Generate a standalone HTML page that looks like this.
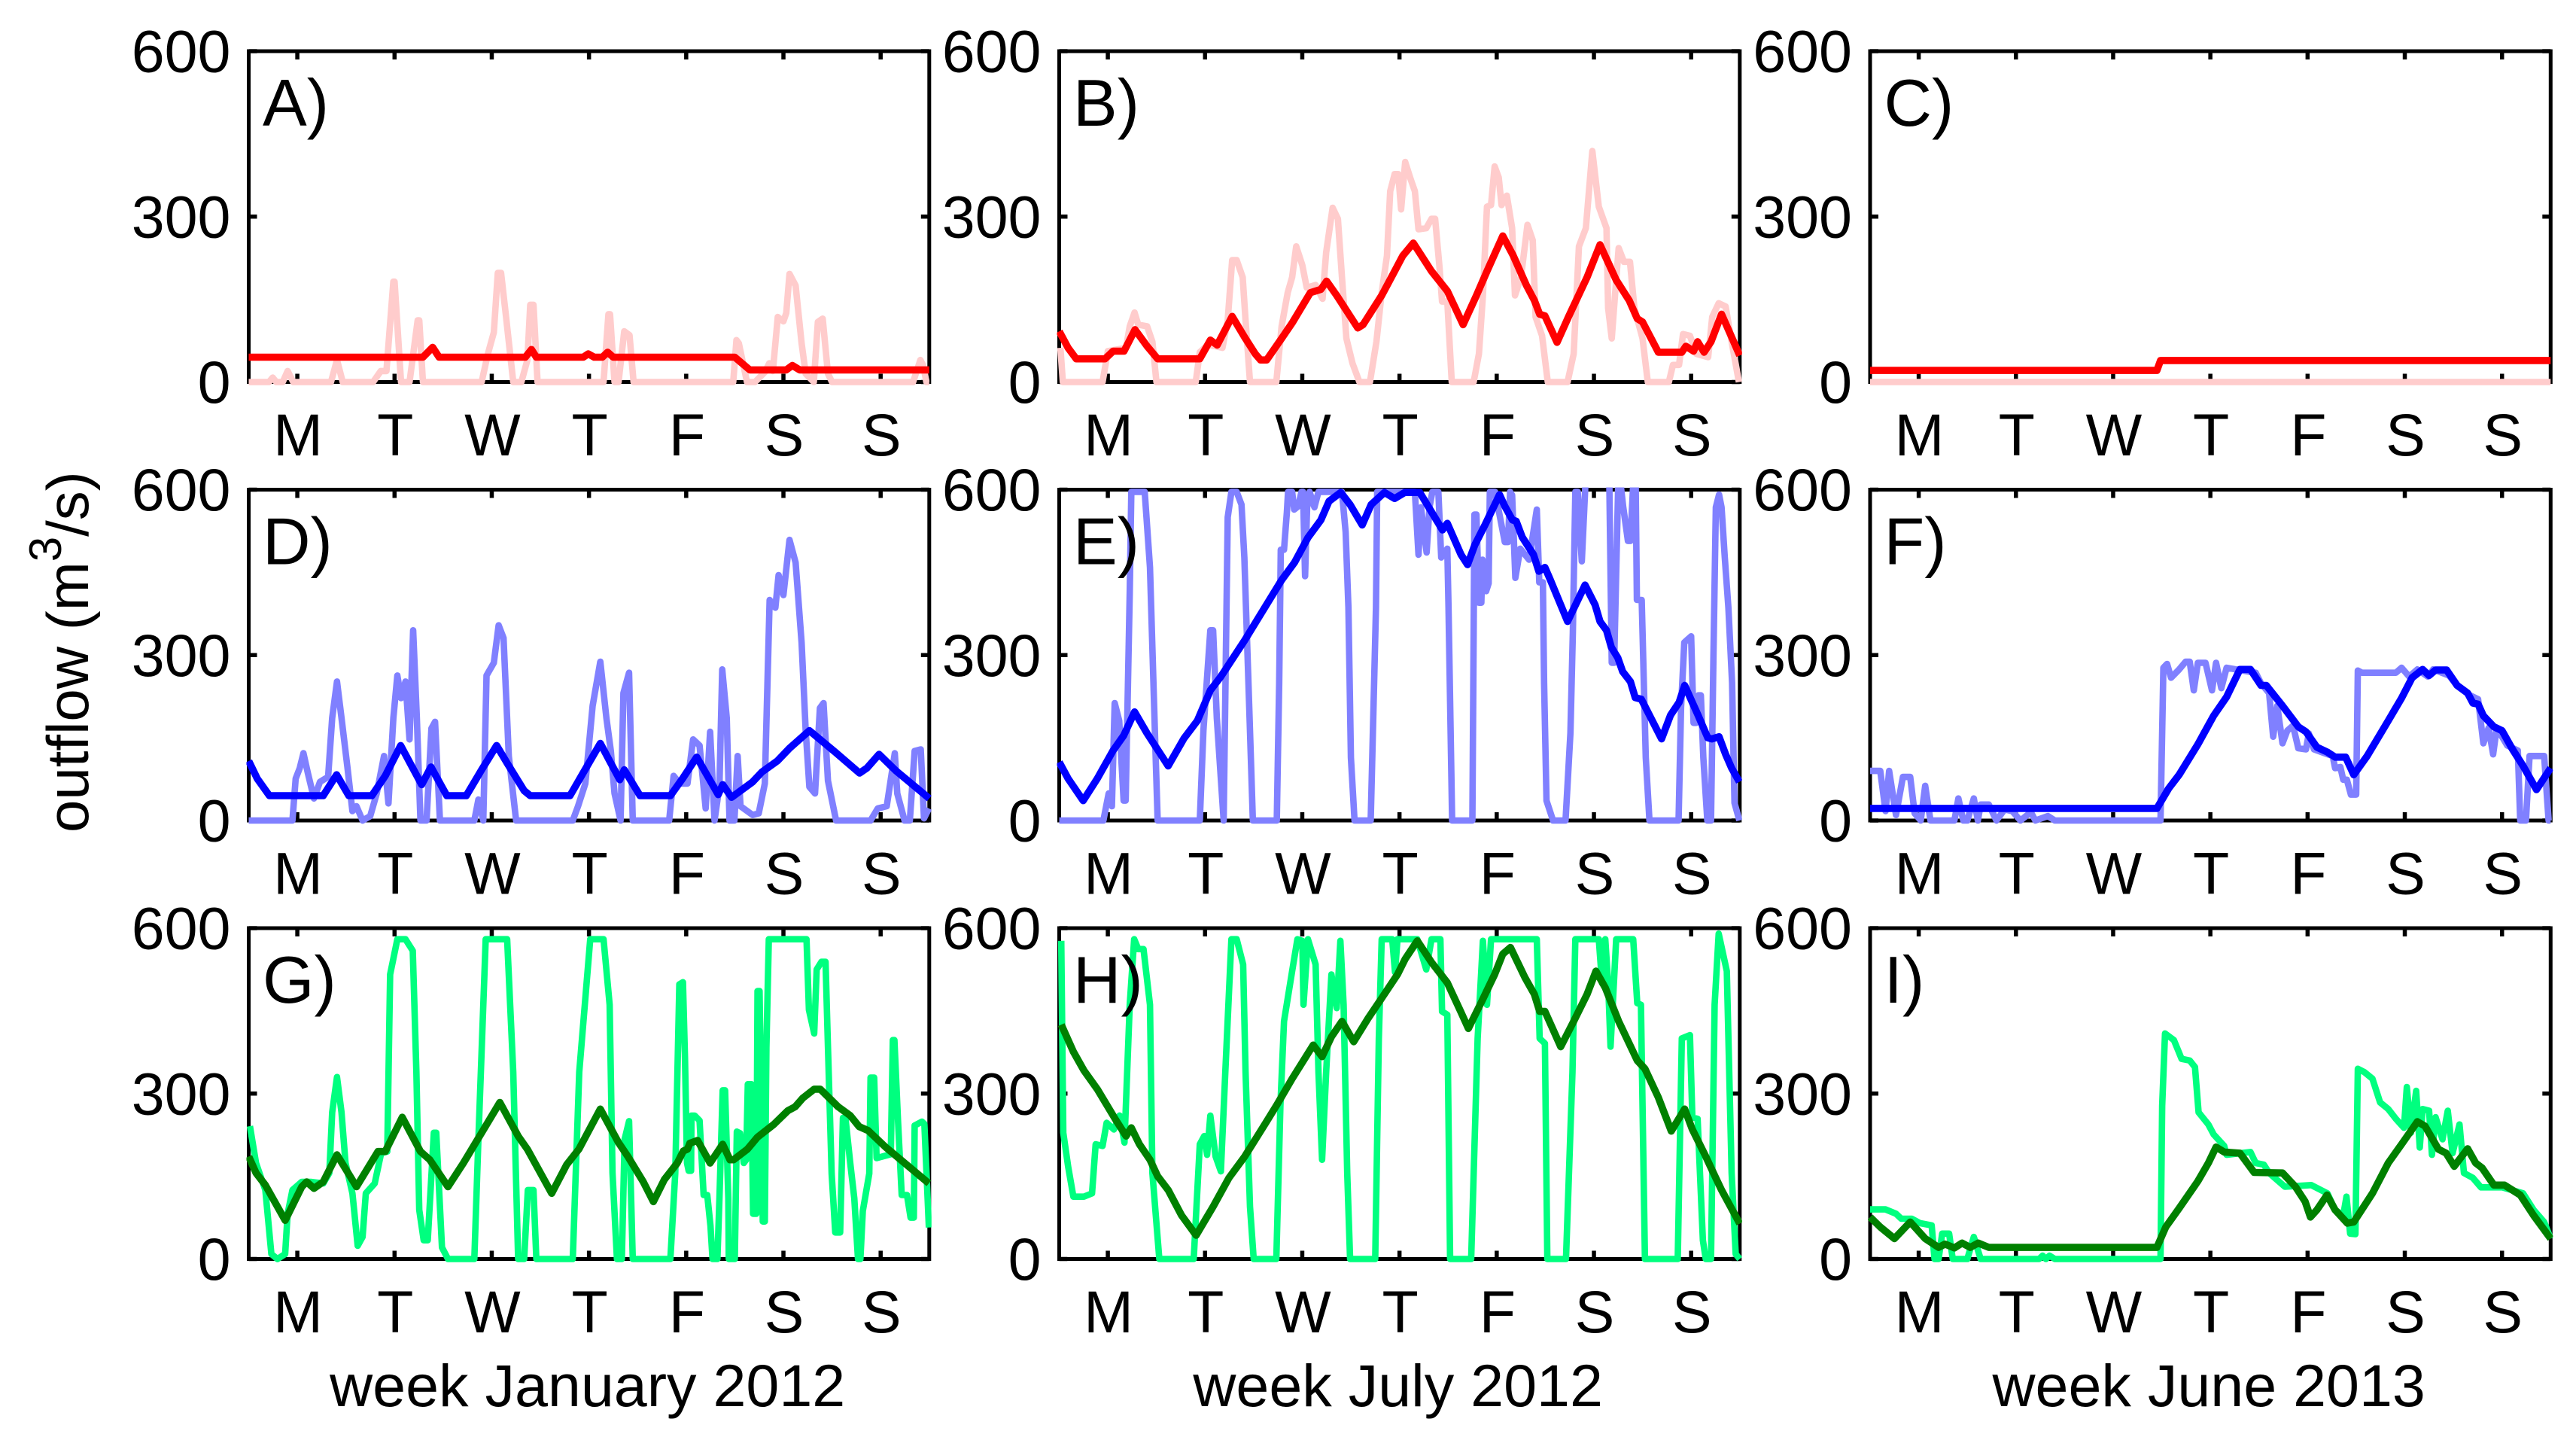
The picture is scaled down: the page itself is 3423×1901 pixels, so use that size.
<!DOCTYPE html>
<html lang="en">
<head>
<meta charset="utf-8">
<title>Outflow per week</title>
<style>
html,body{margin:0;padding:0;background:#fff;}
svg{display:block;}
text{font-family:"Liberation Sans",Arial,sans-serif;fill:#000;}
</style>
</head>
<body>
<svg id="figure" xmlns="http://www.w3.org/2000/svg" width="3423" height="1901" viewBox="0 0 3423 1901">
<rect x="0" y="0" width="3423" height="1901" fill="#fff"/>
<text transform="translate(117,1106) rotate(-90)" font-size="78">outflow (m<tspan dy="-36" font-size="60">3</tspan><tspan dy="36">/s)</tspan></text>
</svg>
<script>
const dayLabels = ['M','T','W','T','F','S','S'];
const dayTickHours = [12,36,60,84,108,132,156];
const flowTicks = [0,300,600];
const columnTitles = ['week January 2012','week July 2012','week June 2013'];

const hoursALight = [0,5,5.9,6.8,8.4,9.6,11,20.3,21.8,23.2,30.7,32.6,34,35.7,36,37.6,39.7,41.7,42.1,43,57.5,59,60.5,61.5,62.3,63.5,65.3,67.3,68.8,69.5,70.3,71.3,87.6,88.8,89.2,90.3,91.3,92.7,94,95,119.6,120.4,121,123,125,127.4,128.5,129.4,130.6,132,132.7,133.5,135,136.5,137.5,139.5,140.5,141.7,143,144,164,165.8,166.5,167.3,168];
const flowALight = [0,0,8,0,0,20,0,0,40,0,0,20,20,182,182,0,0,112,112,0,0,50,90,198,198,120,0,0,40,140,140,0,0,123,123,0,0,92,85,0,0,76,70,0,0,18,34,20,118,110,125,196,175,70,15,0,109,115,15,0,0,40,30,0,0];
const hoursADark = [0,43,45.4,47,68.3,69.8,71,82.6,83.8,85.3,87.3,88.6,90,120,123.7,132.7,134.2,136,168];
const flowADark = [45,45,63,45,45,59,45,45,51,45,45,54,45,45,22,22,30,22,22];

const hoursBLight = [0.3,0.9,10.7,12,16.5,17.4,18.6,19.5,21.7,23,24,33.7,34.7,36.7,38.6,40.3,41.6,42.7,43.8,45.3,46,47.1,53.6,54.9,56.4,57.5,58.5,60,61.1,63.3,65,65.9,67.5,68.8,69.8,70.9,72.4,74.1,76.7,78.3,79.6,80.9,81.7,82.8,83.7,84.4,85.4,86.7,87.8,88.7,90.6,91.9,92.8,93.9,94.5,95.8,96.9,102.3,103.6,104.6,105.6,106.6,107.5,108.5,109.2,110.5,111.8,112.5,114,115.6,116.9,117.6,119.2,120.6,125.5,127,128.3,130,131.6,133.2,135.1,135.5,136.4,137.2,138.1,139.4,140.9,142,144,145.3,150.5,151.5,153,154,155.7,157.3,160.2,161.2,162.8,164.5,166,167.8];
const flowBLight = [62,0,0,56,62,101,126,104,101,73,0,0,54,67,65,62,112,221,221,190,112,0,0,101,162,190,246,212,171,176,151,235,316,296,190,79,34,0,0,73,162,229,346,377,377,313,399,369,346,277,279,296,296,207,146,146,0,0,51,157,318,321,391,371,321,338,279,157,190,285,257,118,84,0,0,51,246,279,419,318,279,134,79,157,243,218,218,134,79,0,0,31,31,87,84,51,45,118,143,137,73,0];
const hoursBDark = [0,2.2,4.2,11.3,13.3,16,18.7,21.7,24.3,34.7,37.3,39,42.7,45.8,48.4,49.7,51.2,54.9,57.5,62,64.6,66,68.5,73.7,75,79.6,82.8,84.8,87.4,91.9,95.8,99.7,103,105.6,109.5,112.1,115.3,117.3,118.6,119.9,122.9,125.7,130.3,133.5,137.5,140.7,142.7,144,147.9,153.7,154.7,156.6,157.6,159.2,160.9,163.5,168];
const flowBDark = [92,62,42,42,56,56,95,65,42,42,76,67,119,81,51,40,40,79,107,162,168,183,157,98,104,157,201,229,252,201,165,104,157,201,265,229,176,148,123,120,72,118,190,249,185,148,115,109,54,54,65,56,73,54,73,123,48];

const hoursCLight = [0,168];
const flowCLight = [0,0];
const hoursCDark = [0,70.8,71.7,168];
const flowCDark = [21,21,39,39];

const hoursDLight = [0,10.8,11.6,12.6,13.5,14.6,16.1,17.6,19.6,20.6,21.8,22.9,24.4,25.6,26.6,28.1,30,31.6,33.4,34.5,35.7,36.7,37.6,38.7,39.7,40.6,41.5,42.4,43.9,45.1,46,47.2,55.7,56.7,57.9,58.7,60.5,61.7,62.9,64.2,66,80,81.3,83.1,84.9,86.8,88.3,89.4,90.3,91.8,92.5,93.9,94.8,103.8,104.9,106.4,108.3,109.7,111.3,112.8,113.9,115,116.2,116.9,118,118.7,119.9,120.7,121.4,124.4,125.9,127.4,128.6,130,130.8,132,133.5,135,136.5,137.5,138.4,139.8,141,141.9,143,145,153.5,155.3,157.5,159.5,160.1,161.9,163.2,164.4,165.9,166.7,167.9];
const flowDLight = [0,0,76,95,122,86,40,70,79,186,252,186,95,17,26,0,8,49,117,31,186,263,222,252,147,345,186,0,0,167,179,0,0,38,0,263,286,354,331,117,0,0,26,67,208,288,186,126,49,0,231,268,0,0,81,67,67,147,136,22,161,0,63,274,186,0,0,117,26,10,13,67,400,386,445,409,509,468,322,163,61,49,204,213,72,0,0,22,26,122,49,0,0,126,129,4,22];
const hoursDDark = [0,2.1,5.1,18.4,21.7,24.7,30.4,33.7,37.5,42.7,45,48.9,53.7,57.5,61.2,63.8,68,69.5,79.3,82.3,86.8,89.1,91.6,92.7,96.6,104.1,107.1,110.6,115.9,117,119.2,124.4,126.7,130.5,133.5,138.4,144.8,150.8,152.6,155.6,159.8,168];
const flowDDark = [108,76,45,45,83,45,45,81,136,65,97,45,45,92,136,104,54,45,45,83,140,108,74,92,45,45,76,115,47,65,42,70,88,108,131,163,124,86,95,120,90,40];

const hoursELight = [0,10.9,12.2,13,13.7,14.8,15.9,16.4,17.4,17.8,21.1,22.4,23.7,24.3,34.7,35.6,37.3,38,38.9,40.6,41.6,42.5,43.8,45,45.7,46.9,47.8,53.7,54.3,54.7,55.5,56.2,56.5,57.5,58,59,59.8,60.2,60.7,61.2,61.8,63,64,69.8,70.7,71.4,72,72.9,76.9,78.2,78.5,87.8,88.7,89.3,90.7,91.4,92.1,93.6,94.3,95.8,96.1,97,102,102.3,102.5,103,103.6,104.2,104.5,105.4,106,106.3,107.6,110,110.8,111.3,111.8,112.6,113.8,116,117.9,118.5,119.4,119.7,120.3,121.9,125,126.2,126.8,127.4,128,129,129.9,131,135,135.8,136.4,137,138,138.6,139.2,140.4,141,141.7,142.3,142.6,143.8,144.8,145.7,152.9,153.5,154.3,156,156.6,157.2,157.8,158.4,159,160,160.9,161.5,162.1,162.9,163.5,164.3,165.2,166.1,166.7,167.9];
const flowELight = [0,0,49,26,213,181,36,36,413,596,596,459,140,0,0,163,345,345,186,0,550,596,596,573,477,205,0,0,250,491,491,559,596,596,564,570,596,596,443,568,596,568,596,596,523,386,114,0,0,386,596,596,482,568,486,568,596,596,477,493,386,0,0,341,555,555,395,395,473,416,430,596,596,505,505,596,590,440,493,473,564,432,432,250,36,0,0,159,341,596,596,470,610,650,650,610,286,286,610,610,570,507,507,610,610,400,400,114,0,0,205,323,334,177,177,227,227,114,0,0,295,568,591,568,477,386,250,32,0];
const hoursEDark = [0,2.2,5.9,9.4,13.3,15.9,18.6,21.7,26.9,30.8,34.1,37.3,39.9,45.8,50.3,54.9,58.1,61.4,64.6,66.6,69.5,71.8,74.8,77,80.3,82.8,85.3,89,94.6,95.8,99.2,100.8,102.6,105.1,108.7,110,111.9,112.8,114.3,117.1,118.4,119.9,121.1,125.5,129.8,132.3,133.5,135.1,136.3,137.9,139.1,141,142.2,143.7,148.7,150.9,153,154.4,157.7,160.1,161.1,162.9,164.5,166,167.9];
const flowEDark = [106,76,36,76,127,154,197,158,99,149,181,236,261,327,381,436,468,513,545,579,595,573,536,573,595,584,595,595,527,539,482,464,500,536,591,570,545,543,514,482,452,459,439,361,427,391,361,345,314,295,270,252,223,220,148,191,214,245,191,150,148,152,120,95,70];

const hoursFLight = [0,2.5,3.8,4.7,6.4,8.1,9.9,11,12.5,13.6,14.9,20.8,21.8,23,24,25.6,26.6,27.3,29.3,31.2,33.2,35.1,37.1,39.7,40.8,43.9,45.6,71.7,72.4,73.3,74.3,76.3,77.9,78.9,79.9,80.9,82.8,84.4,85.4,86.7,88,95.2,96.5,98.5,99.5,100.5,101.8,103,104.4,105.7,107.6,108.3,109.6,112.2,114.2,114.8,116.1,116.8,117.7,118.7,120,120.4,121.4,129.8,131.2,133.1,135.1,137.7,139,142.9,144.9,148.1,150.1,151.4,152.7,153.8,154.7,157.3,159.9,160.5,161.9,162.8,166.4,167.5,168];
const flowFLight = [90,90,17,90,10,79,79,13,0,63,0,0,40,0,0,40,0,29,29,0,20,17,0,15,0,8,0,0,277,284,259,274,288,288,236,286,286,236,286,240,277,268,249,231,152,208,140,163,172,131,129,158,129,122,117,95,97,74,74,47,47,272,268,268,277,261,274,261,274,263,245,227,220,140,168,120,168,136,127,0,0,117,117,0,0];
const hoursFDark = [0,70.8,73.7,76.3,80.9,84.8,88,91.3,93.9,96.5,97.8,101.8,105.7,107.6,110.3,112.9,114.8,117.4,119.4,122.7,127.9,131.2,133.8,136.4,138,139.6,142.3,144.9,147.5,148.8,150.1,151.4,154,156,158.6,161.2,164.5,168];
const flowFDark = [22,22,58,83,138,190,224,274,274,245,245,208,170,161,133,124,115,115,83,117,181,222,259,274,263,273,273,245,231,213,211,190,170,163,129,99,56,95];

const hoursGLight = [0.3,1.8,4.1,5.6,7.1,9,9.6,10.8,13.1,15.3,18.4,19.9,20.6,21.8,22.9,23.9,25.6,26.9,28.1,28.9,31.1,32.7,34.2,34.9,36.7,38.7,40.5,41.4,42.1,43.2,44.2,45.7,46.3,47.7,49.2,55.7,56.7,58.5,63.8,65.3,66.5,68,68.9,70.3,71,80,81.6,84.3,87.6,89.1,89.8,90.9,92.1,92.8,93.9,94.8,104.1,105.3,106.3,107.2,107.7,108.2,108.6,109.2,109.3,110.1,111.3,112.3,113.2,114,114.5,115.7,116.2,117,117.6,118.4,118.5,120,120.5,121.3,122.2,122.8,123.2,124.1,124.5,125.3,125.6,126.1,126.9,127.4,127.8,128.4,137.7,138.3,139.6,140.2,141.4,142.4,143,143.9,144.8,146,146.7,147.3,148.5,149.5,150.4,151,151.6,153.2,153.5,154.4,155,158.5,159,159.4,160.3,161.2,162.5,163.4,164.2,164.4,166.2,166.8,167.9];
const flowGLight = [241,174,125,9,0,9,82,125,140,140,137,156,266,330,266,174,119,24,40,119,137,192,195,516,580,580,559,339,89,34,34,229,229,21,0,0,217,580,580,339,0,0,125,125,0,0,339,580,580,461,156,0,0,217,250,0,0,156,498,502,365,174,160,160,260,260,251,116,116,60,0,0,110,306,306,110,0,0,231,228,174,180,317,317,82,82,486,486,68,68,384,580,580,452,409,525,539,539,384,155,48,48,256,256,174,110,0,0,87,155,329,329,183,190,397,397,247,116,116,75,75,242,249,245,57];
const hoursGDark = [0,1.8,4.1,9,13.1,14.3,16.1,18.4,21.8,26.6,31.9,33.7,37.9,42.4,44.7,49.2,53,57.5,62,66.5,68.8,74.8,78.5,81.5,86.8,91.3,93.6,97.4,99.9,102.6,105.8,107.3,108.3,108.9,110.8,113.9,117,118.8,119.7,123.1,125.6,129.6,133.1,134.9,136.8,139.6,141.1,145.5,148.5,150.7,152.9,157.2,167.9];
const flowGDark = [186,156,134,70,131,140,128,140,189,131,195,195,257,195,180,131,174,229,284,223,199,119,171,199,272,211,186,140,104,144,174,196,199,210,215,174,208,180,180,199,221,244,269,276,292,308,308,276,260,240,233,203,137];

const hoursHLight = [0.5,1,2.2,3.5,6.1,8.1,9,10.7,11.7,13.5,14.9,16.1,17.4,18.5,19.5,20.8,22.4,23,24.7,33.2,34.7,35.8,36.5,37.3,38.6,39.9,41,42.5,43.8,45.4,46,47.1,48,53.6,54.6,55.5,57.5,58.8,60,60.3,61.4,63.3,64,64.9,65.9,67.2,68.5,69.4,70.2,71.1,71.8,78,78.9,79.6,82.2,82.9,83.5,88.4,90.6,91.9,94.1,94.5,95.8,96.5,101.7,103.3,104.6,105.6,106.6,117.9,118.6,119.9,120.5,125.1,126.7,127.4,133.2,134,134.8,135.5,136.1,137.5,141.7,142.7,143.6,144,144.6,152.7,153.7,155.7,156.3,157.6,158.9,159.6,160.9,161.8,162.8,164.8,166,167,168];
const flowHLight = [577,229,168,113,113,119,208,205,247,235,260,211,461,580,562,562,461,156,0,0,208,223,189,260,186,159,339,580,580,534,339,95,0,0,278,431,522,580,577,461,580,534,339,180,339,516,455,577,461,156,0,0,400,580,580,520,580,580,525,580,580,449,443,0,0,400,577,461,580,580,400,391,0,0,339,580,580,500,580,500,385,580,580,464,461,278,0,0,400,406,257,254,34,0,0,461,590,522,156,9,0];
const hoursHDark = [0.5,3.5,6.1,9.4,13.9,16.5,17.8,19.8,22.4,24.3,26.9,30.2,33.8,38,41.9,45.8,51,53.6,57.5,62.7,64.9,67.2,69.8,72.7,76.3,79.6,83.5,85.4,88.4,91.9,95.8,99.1,101,104.3,107.5,109.5,111.4,115,117.3,118.6,119.9,123.8,127,130.3,132.5,134.8,138.1,142.7,144.6,147.9,151.1,154.4,156.3,159.6,161.5,163.5,168];
const flowHDark = [425,376,342,308,253,223,238,208,180,150,125,79,43,95,147,186,247,278,327,388,367,403,431,394,437,473,516,544,577,538,501,449,418,467,516,553,565,510,480,449,449,385,431,480,522,492,431,360,345,293,232,272,235,186,156,125,64];

const hoursILight = [0,3.8,6.4,7.7,10.3,12.3,15.2,15.9,16.9,17.8,19.5,20.4,24,25.6,27.3,41.7,42.6,43.4,44.3,45.6,71.7,72.1,72.8,75,76.9,78.9,80.2,81.1,83.5,84.8,87.4,88,93.9,95.2,97.2,98.5,102.4,108.9,112.9,114.8,116.8,117.6,118.5,119.8,120.4,122,124,125.9,127.9,129.8,131.8,132.5,133.5,134.8,135.7,136.4,138,138.7,139.6,141.3,142.6,143.8,145.5,146.6,148.8,150.8,156,161.2,163.8,166.4,168];
const flowILight = [90,90,82,73,73,65,61,0,0,46,46,0,0,40,0,0,6,0,6,0,0,278,409,397,363,360,348,266,244,226,205,189,194,174,171,156,131,134,119,89,79,113,46,45,345,339,327,284,272,254,238,312,229,305,202,272,269,189,257,217,269,192,244,156,147,130,130,119,89,67,37];
const hoursIDark = [0,2.5,6,9.9,13.6,16.9,18.5,20.8,22.7,24.7,26.7,29.3,70.8,73,76.3,80.9,83.5,85.4,87.4,91.3,94.8,101.8,105,107.4,108.7,110.3,112.8,114.8,117.8,119.4,124,127.9,131.2,135.1,137,140.3,142.2,144.2,147.5,149.5,151.1,154,156.6,160.5,163.8,168];
const flowIDark = [76,58,37,67,37,21,27,20,29,21,29,21,21,58,92,141,174,203,194,192,157,156,131,104,76,89,116,89,65,67,119,174,208,249,241,199,192,168,200,174,165,134,134,116,79,37];

const panelLetters = ['A)','B)','C)','D)','E)','F)','G)','H)','I)'];
const lightHours = [hoursALight,hoursBLight,hoursCLight,hoursDLight,hoursELight,hoursFLight,hoursGLight,hoursHLight,hoursILight];
const lightFlows = [flowALight,flowBLight,flowCLight,flowDLight,flowELight,flowFLight,flowGLight,flowHLight,flowILight];
const darkHours = [hoursADark,hoursBDark,hoursCDark,hoursDDark,hoursEDark,hoursFDark,hoursGDark,hoursHDark,hoursIDark];
const darkFlows = [flowADark,flowBDark,flowCDark,flowDDark,flowEDark,flowFDark,flowGDark,flowHDark,flowIDark];

const NS = 'http://www.w3.org/2000/svg';
const figure = document.getElementById('figure');
const colLeft = [330.5,1407.5,2485];
const rowTop = [68,650.5,1233];
const panelWidth = 904.3;
const panelHeight = 439.5;
const hourMax = 168;
const flowMax = 600;
const lightColors = ['#FFCCCC','#8080FF','#00FF7F'];
const darkColors = ['#FF0000','#0000FF','#008000'];

function xScale(col, hour){ return colLeft[col] + hour / hourMax * panelWidth; }
function yScale(row, flow){ return rowTop[row] + panelHeight - flow / flowMax * panelHeight; }
function create(tag, parent){
  const el = document.createElementNS(NS, tag);
  parent.appendChild(el);
  return el;
}
function lineEl(parent, x1, y1, x2, y2, w){
  const l = create('line', parent);
  l.setAttribute('x1', x1);
  l.setAttribute('y1', y1);
  l.setAttribute('x2', x2);
  l.setAttribute('y2', y2);
  l.setAttribute('stroke', '#000');
  l.setAttribute('stroke-width', w);
  return l;
}
function textEl(parent, x, y, size, anchor, str){
  const t = create('text', parent);
  t.setAttribute('x', x);
  t.setAttribute('y', y);
  t.setAttribute('font-size', size);
  t.setAttribute('text-anchor', anchor);
  t.textContent = str;
  return t;
}
function seriesPath(parent, col, row, hours, flows, color, width, clipId){
  const p = create('path', parent);
  let d = '';
  for (let i = 0; i < hours.length; i++) {
    d += (i ? 'L' : 'M') + xScale(col, hours[i]).toFixed(1) + ' ' + yScale(row, flows[i]).toFixed(1);
  }
  p.setAttribute('d', d);
  p.setAttribute('fill', 'none');
  p.setAttribute('stroke', color);
  p.setAttribute('stroke-width', width);
  p.setAttribute('stroke-linejoin', 'round');
  p.setAttribute('stroke-linecap', 'butt');
  p.setAttribute('clip-path', 'url(#' + clipId + ')');
  return p;
}

const defs = create('defs', figure);
for (let row = 0; row < 3; row++) {
  for (let col = 0; col < 3; col++) {
    const idx = row * 3 + col;
    const left = xScale(col, 0);
    const right = xScale(col, hourMax);
    const top = yScale(row, flowMax);
    const bottom = yScale(row, 0);
    const g = create('g', figure);
    
    

    const clip = create('clipPath', defs);
    const clipId = 'clip' + idx;
    clip.setAttribute('id', clipId);
    const cr = create('rect', clip);
    cr.setAttribute('x', left - 3);
    cr.setAttribute('y', top - 3);
    cr.setAttribute('width', panelWidth + 6);
    cr.setAttribute('height', panelHeight + 7.5);

    const box = create('rect', g);
    
    
    box.setAttribute('x', left);
    box.setAttribute('y', top);
    box.setAttribute('width', panelWidth);
    box.setAttribute('height', panelHeight);
    box.setAttribute('fill', 'none');
    box.setAttribute('stroke', '#000');
    box.setAttribute('stroke-width', 5);

    dayTickHours.forEach(function(hour, i){
      const x = xScale(col, hour);
      const t1 = lineEl(g, x, bottom, x, bottom - 11, 5.5);
      
      
      const t2 = lineEl(g, x, top, x, top + 11, 5.5);
      
      
      const lab = textEl(g, x + 1, bottom + 97.5, 79, 'middle', dayLabels[i]);
      
      
    });

    flowTicks.forEach(function(flow){
      const y = yScale(row, flow);
      const t1 = lineEl(g, left, y, left + 11, y, 5.5);
      
      
      const t2 = lineEl(g, right, y, right - 11, y, 5.5);
      
      
      const lab = textEl(g, left - 24, y + 27.5, 79, 'end', String(flow));
      
      
    });

    const light = seriesPath(g, col, row, lightHours[idx], lightFlows[idx], lightColors[row], 8.6, clipId);
    
    
    const dark = seriesPath(g, col, row, darkHours[idx], darkFlows[idx], darkColors[row], 9.6, clipId);
    
    

    const letter = textEl(g, left + 18.5, top + 99, 88, 'start', panelLetters[idx]);
    
    

    if (row === 2) {
      const title = textEl(g, (left + right) / 2 - 2, 1868, 79, 'middle', columnTitles[col]);
      
      
    }
  }
}
</script>
</body>
</html>
